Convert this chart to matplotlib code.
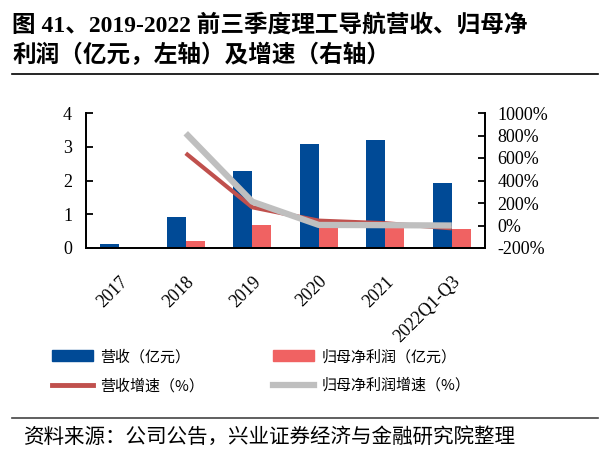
import matplotlib
matplotlib.use("Agg")
import matplotlib.pyplot as plt
import numpy as np
from matplotlib.lines import Line2D
from matplotlib.patches import Patch

plt.rcParams['font.family'] = ['Liberation Serif', 'Noto Sans CJK SC', 'DejaVu Sans']

categories = ['2017', '2018', '2019', '2020', '2021', '2022Q1-Q3']
revenue = [0.12, 0.93, 2.27, 3.07, 3.20, 1.92]
profit = [np.nan, 0.21, 0.68, 0.72, 0.70, 0.56]
rev_growth = [np.nan, 642, 162, 43, 20, -25]
profit_growth = [np.nan, 820, 212, 5, 3, 0]
left_ticks = [0, 1, 2, 3, 4]
right_ticks = [-200, 0, 200, 400, 600, 800, 1000]

c_blue = '#004A96'
c_pink = '#F06262'
c_red = '#C0504D'
c_gray = '#BFBFBF'

fig = plt.figure(figsize=(6.11, 4.70), dpi=100)
ax = fig.add_axes([86/611, 1-248/470, (485-86)/611, (248-113)/470])
ax2 = ax.twinx()

x = np.arange(len(categories))
w = 0.285
ax.bar(x - w/2, revenue, width=w, color=c_blue, zorder=2)
ax.bar(x + w/2, profit, width=w, color=c_pink, zorder=2)
ax2.plot(x, rev_growth, color=c_red, lw=3.0, zorder=3, solid_capstyle='butt')
ax2.plot(x, profit_growth, color=c_gray, lw=4.5, zorder=4, solid_capstyle='butt')

ax.set_xlim(-0.5, len(categories) - 0.5)
ax.set_ylim(0, 4)
ax2.set_ylim(-200, 1000)
ax.set_yticks(left_ticks)
ax.set_yticklabels([str(t) for t in left_ticks])
ax2.set_yticks(right_ticks)
ax2.set_yticklabels([f'{t}%' for t in right_ticks])

for a in (ax, ax2):
    for s in a.spines.values():
        s.set_linewidth(1.3)
    a.spines['top'].set_visible(False)
ax2.spines['left'].set_visible(True)
ax.tick_params(axis='y', direction='in', length=5, width=1.3, labelsize=13, pad=10)
ax2.tick_params(axis='y', direction='in', length=5, width=1.3, labelsize=13, pad=9)
ax.set_xticks(x)
ax.set_xticklabels(categories, rotation=45, ha='right', rotation_mode='anchor', fontsize=13)
ax.tick_params(axis='x', length=0, pad=18)

# legend (column-major order: col1 = blue, red line; col2 = pink, gray line)
handles = [Patch(color=c_blue), Line2D([], [], color=c_red, lw=3.5),
           Patch(color=c_pink), Line2D([], [], color=c_gray, lw=4.5)]
labels = ['营收（亿元）', '营收增速（%）', '归母净利润（亿元）', '归母净利润增速（%）']
leg = fig.legend(handles, labels, loc='upper left', bbox_to_anchor=(38/611, 1-336/470),
                 ncol=2, frameon=False, columnspacing=4.6, handlelength=2.75,
                 handleheight=0.75, handletextpad=0.5, labelspacing=0.95,
                 prop={'family': ['Noto Sans CJK SC'], 'size': 10.8})

# title
fig.text(12/611, 1-25/470, '图 41、2019-2022 前三季度理工导航营收、归母净', fontsize=17,
         fontweight='bold', va='center', ha='left')
fig.text(12/611, 1-55/470, '利润（亿元，左轴）及增速（右轴）', fontsize=17,
         fontweight='bold', va='center', ha='left')
fig.add_artist(Line2D([12/611, 598/611], [1-74/470, 1-74/470], color='black', lw=1.2))
fig.add_artist(Line2D([12/611, 598/611], [1-418/470, 1-418/470], color='#444444', lw=1.2))
fig.text(24/611, 1-437/470, '资料来源：公司公告，兴业证券经济与金融研究院整理', fontsize=14.8,
         va='center', ha='left', family=['Noto Sans CJK SC'])

fig.savefig('out.png', dpi=100)
